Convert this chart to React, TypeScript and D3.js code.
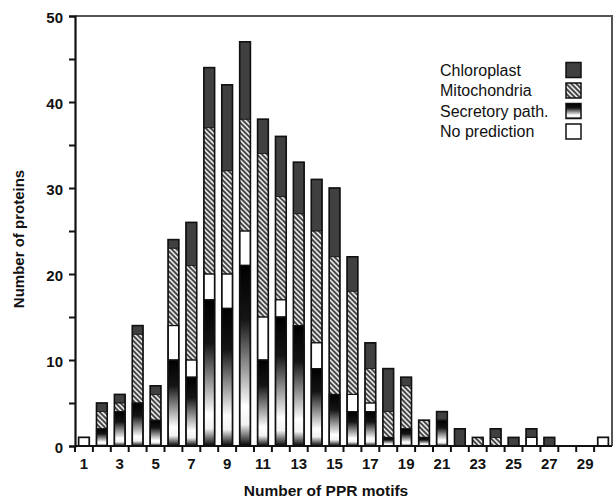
import { useEffect, useRef } from 'react'
import * as d3 from 'd3'

const motifs = ['1', '2', '3', '4', '5', '6', '7', '8', '9', '10', '11', '12', '13', '14', '15',
  '16', '17', '18', '19', '20', '21', '22', '23', '24', '25', '26', '27', '28', '29', '30']
const secretory = [0, 2, 4, 5, 3, 10, 8, 17, 16, 21, 10, 15, 14, 9, 6, 4, 4, 1, 2, 1, 3, 0, 0, 0, 0, 0, 0, 0, 0, 0]
const noPrediction = [1, 0, 0, 0, 0, 4, 2, 3, 4, 4, 5, 2, 0, 3, 0, 2, 1, 0, 0, 0, 0, 0, 0, 0, 0, 1, 0, 0, 0, 1]
const mitochondria = [0, 2, 1, 8, 3, 9, 11, 17, 12, 13, 19, 12, 13, 13, 16, 12, 4, 3, 5, 2, 0, 0, 1, 1, 0, 0, 0, 0, 0, 0]
const chloroplast = [0, 1, 1, 1, 1, 1, 5, 7, 10, 9, 4, 7, 6, 6, 8, 4, 3, 5, 1, 0, 1, 2, 0, 1, 1, 1, 1, 0, 0, 0]
const xLabels = ['1', '3', '5', '7', '9', '11', '13', '15', '17', '19', '21', '23', '25', '27', '29']
const yTicks = [0, 5, 10, 15, 20, 25, 30, 35, 40, 45, 50]
const yLabels = [0, 10, 20, 30, 40, 50]

// legend top to bottom
const legendItems = [
  { key: 'chloroplast', label: 'Chloroplast' },
  { key: 'mitochondria', label: 'Mitochondria' },
  { key: 'secretory', label: 'Secretory path.' },
  { key: 'noPrediction', label: 'No prediction' }
]

const FILL = {
  chloroplast: '#404040',
  mitochondria: 'url(#hatch)',
  secretory: 'url(#secGrad)',
  noPrediction: '#ffffff'
}

const FONT = '"Liberation Sans", Arial, Helvetica, sans-serif'

export default function App() {
  const svgRef = useRef<SVGSVGElement>(null)

  useEffect(() => {
    if (!svgRef.current) return
    const svg = d3.select(svgRef.current)
    svg.selectAll('*').remove()

    const W = 613
    const H = 502
    const m = { top: 16, right: 1, bottom: 56, left: 75 }
    const x0 = m.left
    const x1 = W - m.right
    const yTop = m.top
    const yBot = H - m.bottom

    const defs = svg.append('defs')
    const pat = defs.append('pattern')
      .attr('id', 'hatch').attr('patternUnits', 'userSpaceOnUse')
      .attr('width', 5).attr('height', 5)
    pat.append('rect').attr('width', 5).attr('height', 5).attr('fill', '#4a4a4a')
    pat.append('path')
      .attr('d', 'M-1,-1 L6,6 M-1,4 L1,6 M4,-1 L6,1')
      .attr('stroke', '#f4f4f4').attr('stroke-width', 1.5)

    const grad = defs.append('linearGradient')
      .attr('id', 'secGrad').attr('x1', 0).attr('y1', 0).attr('x2', 0).attr('y2', 1)
    ;[[0, '#000'], [0.3, '#151515'], [0.78, '#fff'], [0.88, '#f2f2f2'], [1, '#000']].forEach(([o, c]) => {
      grad.append('stop').attr('offset', o as number).attr('stop-color', c as string)
    })

    const rows = motifs.map((k, i) => ({
      motif: k,
      secretory: secretory[i],
      noPrediction: noPrediction[i],
      mitochondria: mitochondria[i],
      chloroplast: chloroplast[i]
    }))
    const keys = ['secretory', 'noPrediction', 'mitochondria', 'chloroplast']
    const series = d3.stack<any>().keys(keys)(rows)
    const total = (r: typeof rows[number]) => r.secretory + r.noPrediction + r.mitochondria + r.chloroplast

    const x = d3.scaleBand().domain(motifs).range([x0, x1]).paddingInner(0.4).paddingOuter(0.2)
    const y = d3.scaleLinear().domain([0, 50]).range([yBot, yTop])

    // bars
    series.forEach(s => {
      svg.append('g').selectAll('rect')
        .data(s.filter(d => d[1] > d[0]))
        .join('rect')
        .attr('x', d => x(d.data.motif)!)
        .attr('width', x.bandwidth())
        .attr('y', d => y(d[1]))
        .attr('height', d => y(d[0]) - y(d[1]))
        .attr('fill', FILL[s.key as keyof typeof FILL])
    })
    // outline of each segment
    series.forEach(s => {
      svg.append('g').selectAll('rect')
        .data(s.filter(d => d[1] > d[0]))
        .join('rect')
        .attr('x', d => x(d.data.motif)!)
        .attr('width', x.bandwidth())
        .attr('y', d => y(d[1]))
        .attr('height', d => y(d[0]) - y(d[1]))
        .attr('fill', 'none')
        .attr('stroke', '#111')
        .attr('stroke-width', s.key === 'noPrediction' || s.key === 'secretory' ? 1.2 : 0.6)
    })
    // whole bar outline
    svg.append('g').selectAll('rect')
      .data(rows.filter(r => total(r) > 0))
      .join('rect')
      .attr('x', d => x(d.motif)!)
      .attr('width', x.bandwidth())
      .attr('y', d => y(total(d)))
      .attr('height', d => yBot - y(total(d)))
      .attr('fill', 'none')
      .attr('stroke', '#111')
      .attr('stroke-width', 1.6)

    // frame
    svg.append('path')
      .attr('d', `M${x0},${yTop} H${x1} V${yBot}`)
      .attr('fill', 'none').attr('stroke', '#555').attr('stroke-width', 2)

    // y axis
    const gy = svg.append('g').attr('transform', `translate(${x0},0)`)
      .call(d3.axisLeft(y).tickValues(yTicks).tickSize(6)
        .tickFormat(d => (yLabels.includes(d as number) ? String(d) : '')))
    gy.select('.domain').attr('stroke', '#111').attr('stroke-width', 2.2)
    gy.selectAll('line').attr('stroke', '#111').attr('stroke-width', 2)
    gy.selectAll('text')
      .attr('font-family', FONT).attr('font-size', 15).attr('font-weight', 'bold')
      .attr('fill', '#111').attr('x', -12).attr('dy', '0.4em')

    // x axis
    const gx = svg.append('g').attr('transform', `translate(0,${yBot})`)
      .call(d3.axisBottom(x).tickValues(xLabels).tickSize(0).tickPadding(12))
    gx.select('.domain').attr('stroke', '#111').attr('stroke-width', 2.2).attr('d', `M${x0},0H${x1}`)
    gx.selectAll('text')
      .attr('font-family', FONT).attr('font-size', 15).attr('font-weight', 'bold').attr('fill', '#111')
    const gap = (x.step() - x.bandwidth()) / 2
    gx.append('g').selectAll('line')
      .data(motifs)
      .join('line')
      .attr('x1', d => x(d)! - gap).attr('x2', d => x(d)! - gap)
      .attr('y1', 0).attr('y2', 6)
      .attr('stroke', '#111').attr('stroke-width', 2)

    // axis titles
    svg.append('text')
      .attr('x', 326).attr('y', 496)
      .attr('text-anchor', 'middle')
      .attr('font-family', FONT).attr('font-size', 15.5).attr('font-weight', 'bold').attr('fill', '#111')
      .text('Number of PPR motifs')
    svg.append('text')
      .attr('transform', `translate(24,${(yTop + yBot) / 2 + 8}) rotate(-90)`)
      .attr('text-anchor', 'middle')
      .attr('font-family', FONT).attr('font-size', 15).attr('font-weight', 'bold').attr('fill', '#111')
      .text('Number of proteins')

    // legend
    const lg = svg.append('g')
    legendItems.forEach((item, i) => {
      const cy = 70 + i * 20.5
      lg.append('text')
        .attr('x', 440).attr('y', cy + 5.5)
        .attr('font-family', FONT).attr('font-size', 16).attr('fill', '#111')
        .text(item.label)
      lg.append('rect')
        .attr('x', 566).attr('y', cy - 7.5)
        .attr('width', 15).attr('height', 15)
        .attr('fill', FILL[item.key as keyof typeof FILL])
        .attr('stroke', '#111').attr('stroke-width', 1.5)
    })
  }, [])

  return (
    <svg
      ref={svgRef}
      width={613}
      height={502}
      style={{ position: 'absolute', left: 0, top: 0, background: '#fff' }}
    />
  )
}
